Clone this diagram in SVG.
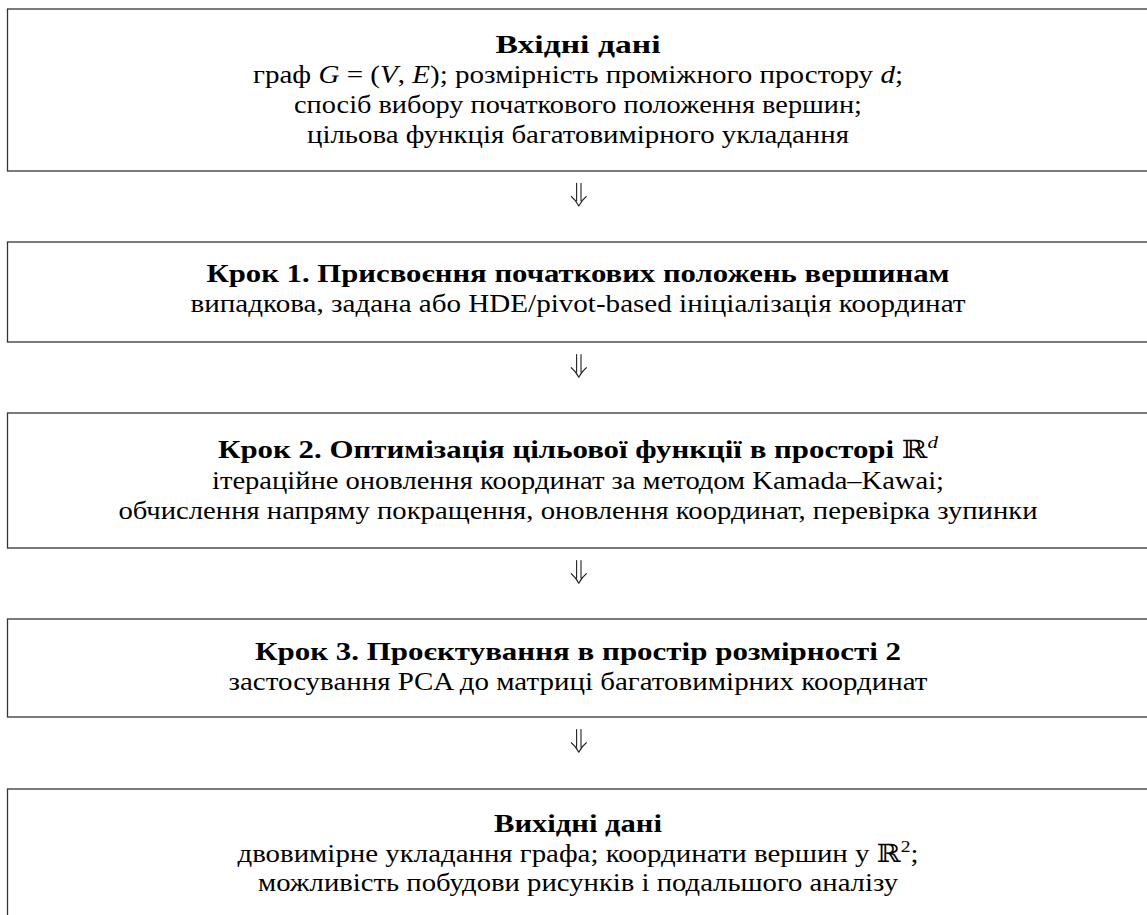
<svg xmlns="http://www.w3.org/2000/svg" xmlns:xlink="http://www.w3.org/1999/xlink" width="1147" height="915" viewBox="0 0 1147 915">
<style>
.box{fill:#fff;stroke:#333;stroke-width:1.3}
.t{font-family:"Liberation Serif","DejaVu Serif",serif;font-size:25px;fill:#000;text-anchor:middle}
.b{font-weight:bold}
.i{font-style:italic}
.n{font-weight:normal}
.arr{fill:none;stroke:#222;stroke-width:1.1;stroke-linecap:round;stroke-linejoin:round}
</style>
<defs>
<g id="dbl">
<path d="M-2.2,0 V17.5 M2.2,0 V17.5 M-7.5,13.2 Q-3,16.8 0,22.7 Q3,16.8 7.5,13.2"/>
</g>
</defs>
<rect width="1147" height="915" fill="#fff"/>
<g id="input">
<rect class="box" x="7.5" y="9" width="1141" height="162"/>
<text class="t b" x="578" y="53" textLength="165" lengthAdjust="spacingAndGlyphs">Вхідні дані</text>
<text class="t" x="578" y="83" textLength="650" lengthAdjust="spacingAndGlyphs">граф <tspan class="i">G</tspan> = (<tspan class="i">V</tspan>, <tspan class="i">E</tspan>); розмірність проміжного простору <tspan class="i">d</tspan>;</text>
<text class="t" x="578" y="113" textLength="568" lengthAdjust="spacingAndGlyphs">спосіб вибору початкового положення вершин;</text>
<text class="t" x="578" y="143" textLength="542" lengthAdjust="spacingAndGlyphs">цільова функція багатовимірного укладання</text>
</g>
<g id="step1">
<rect class="box" x="7.5" y="242" width="1141" height="100"/>
<text class="t b" x="578" y="282" textLength="743" lengthAdjust="spacingAndGlyphs">Крок 1. Присвоєння початкових положень вершинам</text>
<text class="t" x="578" y="312" textLength="775" lengthAdjust="spacingAndGlyphs">випадкова, задана або HDE/pivot-based ініціалізація координат</text>
</g>
<g id="step2">
<rect class="box" x="7.5" y="413" width="1141" height="135"/>
<text class="t b" x="578" y="458" textLength="720" lengthAdjust="spacingAndGlyphs">Крок 2. Оптимізація цільової функції в просторі <tspan class="n">ℝ</tspan><tspan class="n i" font-size="17" dy="-10">d</tspan></text>
<text class="t" x="578" y="489" textLength="732" lengthAdjust="spacingAndGlyphs">ітераційне оновлення координат за методом Kamada–Kawai;</text>
<text class="t" x="578" y="519" textLength="919" lengthAdjust="spacingAndGlyphs">обчислення напряму покращення, оновлення координат, перевірка зупинки</text>
</g>
<g id="step3">
<rect class="box" x="7.5" y="619" width="1141" height="98"/>
<text class="t b" x="578" y="660" textLength="646" lengthAdjust="spacingAndGlyphs">Крок 3. Проєктування в простір розмірності 2</text>
<text class="t" x="578" y="690" textLength="699" lengthAdjust="spacingAndGlyphs">застосування PCA до матриці багатовимірних координат</text>
</g>
<g id="output">
<rect class="box" x="7.5" y="789" width="1141" height="140"/>
<text class="t b" x="578" y="832" textLength="168" lengthAdjust="spacingAndGlyphs">Вихідні дані</text>
<text class="t" x="578" y="862" textLength="681" lengthAdjust="spacingAndGlyphs">двовимірне укладання графа; координати вершин у ℝ<tspan font-size="17" dy="-10">2</tspan><tspan dy="10">;</tspan></text>
<text class="t" x="578" y="891" textLength="640" lengthAdjust="spacingAndGlyphs">можливість побудови рисунків і подальшого аналізу</text>
</g>
<g id="connectors" class="arr">
<use xlink:href="#dbl" x="578.8" y="183.3"/>
<use xlink:href="#dbl" x="578.8" y="354.5"/>
<use xlink:href="#dbl" x="578.8" y="560.5"/>
<use xlink:href="#dbl" x="578.8" y="729.5"/>
</g>
</svg>
